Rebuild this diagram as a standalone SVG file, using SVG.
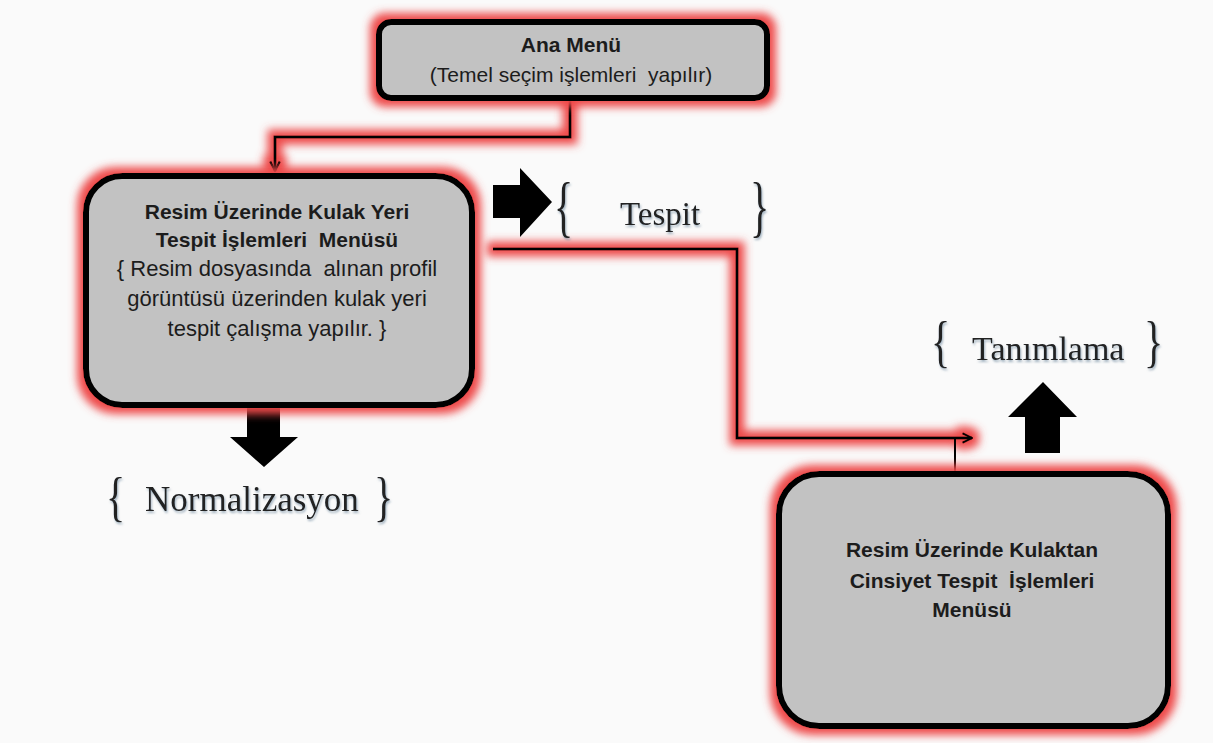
<svg xmlns="http://www.w3.org/2000/svg" width="1213" height="743" viewBox="0 0 1213 743">
<defs>
<filter id="glow" filterUnits="userSpaceOnUse" x="0" y="0" width="1213" height="743">
<feMorphology in="SourceAlpha" operator="dilate" radius="6" result="d"/>
<feGaussianBlur in="d" stdDeviation="4" result="b"/>
<feFlood flood-color="#ee4a4a" flood-opacity="1"/>
<feComposite in2="b" operator="in" result="g"/>
<feMerge><feMergeNode in="g"/><feMergeNode in="SourceGraphic"/></feMerge>
</filter>
<filter id="tshadow" filterUnits="userSpaceOnUse" x="0" y="0" width="1213" height="743">
<feDropShadow dx="1" dy="2" stdDeviation="1.2" flood-color="#5a7890" flood-opacity="0.55"/>
</filter>
<marker id="arr" viewBox="0 0 10 10" refX="9" refY="5" markerWidth="4" markerHeight="4" orient="auto" markerUnits="strokeWidth">
<path d="M1,1 L9,5 L1,9" fill="none" stroke="#000" stroke-width="2"/>
</marker>
</defs>
<style>
.box{fill:#c2c2c2;stroke:#000;stroke-width:6}
.t{font-family:"Liberation Sans",Arial,sans-serif;fill:#1c1c1c;text-anchor:middle}
.b{font-weight:bold}
.lbl{font-family:"Liberation Serif","Times New Roman",serif;fill:#222}
.conn{fill:none;stroke:#000;stroke-width:3}
</style>
<rect width="1213" height="743" fill="#fafafa"/>

<g id="connectors">
<g filter="url(#glow)">
<path class="conn" d="M570,96 V137 H275 V171" marker-end="url(#arr)"/>
<path class="conn" d="M493,249 H737 V438 H972" marker-end="url(#arr)"/>
</g>
<line x1="955" y1="438" x2="955" y2="473" stroke="#000" stroke-width="2"/>
<polygon points="247,408 280,408 280,437 298,437 264,467 230,437 247,437" fill="#000"/>
<polygon points="493,185 520,185 520,168 552,202 520,237 520,218 493,218" fill="#000"/>
<polygon points="1025,453 1060,453 1060,417 1077,417 1043,382 1008,417 1025,417" fill="#000"/>
</g>

<g id="ana-menu">
<rect class="box" x="379" y="22" width="388" height="76" rx="12" filter="url(#glow)" stroke-width="5"/>
<text class="t b" x="571" y="52" font-size="21">Ana Menü</text>
<text class="t" x="571" y="82" font-size="21" xml:space="preserve">(Temel seçim işlemleri  yapılır)</text>
</g>

<g id="kulak-yeri">
<rect class="box" x="86" y="176" width="386" height="229" rx="36" filter="url(#glow)"/>
<text class="t b" x="277" y="219" font-size="21">Resim Üzerinde Kulak Yeri</text>
<text class="t b" x="277" y="247" font-size="21" xml:space="preserve">Tespit İşlemleri  Menüsü</text>
<text class="t" x="277" y="276" font-size="22" xml:space="preserve">{ Resim dosyasında  alınan profil</text>
<text class="t" x="277" y="306" font-size="22">görüntüsü üzerinden kulak yeri</text>
<text class="t" x="277" y="336" font-size="22">tespit çalışma yapılır. }</text>
</g>

<g id="cinsiyet">
<rect class="box" x="779" y="474" width="389" height="252" rx="40" filter="url(#glow)"/>
<text class="t b" x="972" y="557" font-size="21">Resim Üzerinde Kulaktan</text>
<text class="t b" x="972" y="588" font-size="21" xml:space="preserve">Cinsiyet Tespit  İşlemleri</text>
<text class="t b" x="972" y="617" font-size="21">Menüsü</text>
</g>

<g id="tespit" filter="url(#tshadow)">
<text class="lbl" transform="translate(554,229) scale(1,1.7)" font-size="40">{</text>
<text class="lbl" x="620" y="225" font-size="33">Tespit</text>
<text class="lbl" transform="translate(750,229) scale(1,1.7)" font-size="40">}</text>
</g>

<g id="normalizasyon" filter="url(#tshadow)">
<text class="lbl" transform="translate(106,515) scale(1,1.35)" font-size="40">{</text>
<text class="lbl" x="145" y="511" font-size="35">Normalizasyon</text>
<text class="lbl" transform="translate(374,515) scale(1,1.35)" font-size="40">}</text>
</g>

<g id="tanimlama" filter="url(#tshadow)">
<text class="lbl" transform="translate(931,361) scale(1,1.45)" font-size="40">{</text>
<text class="lbl" x="972" y="360" font-size="34">Tanımlama</text>
<text class="lbl" transform="translate(1144,361) scale(1,1.45)" font-size="40">}</text>
</g>
</svg>
